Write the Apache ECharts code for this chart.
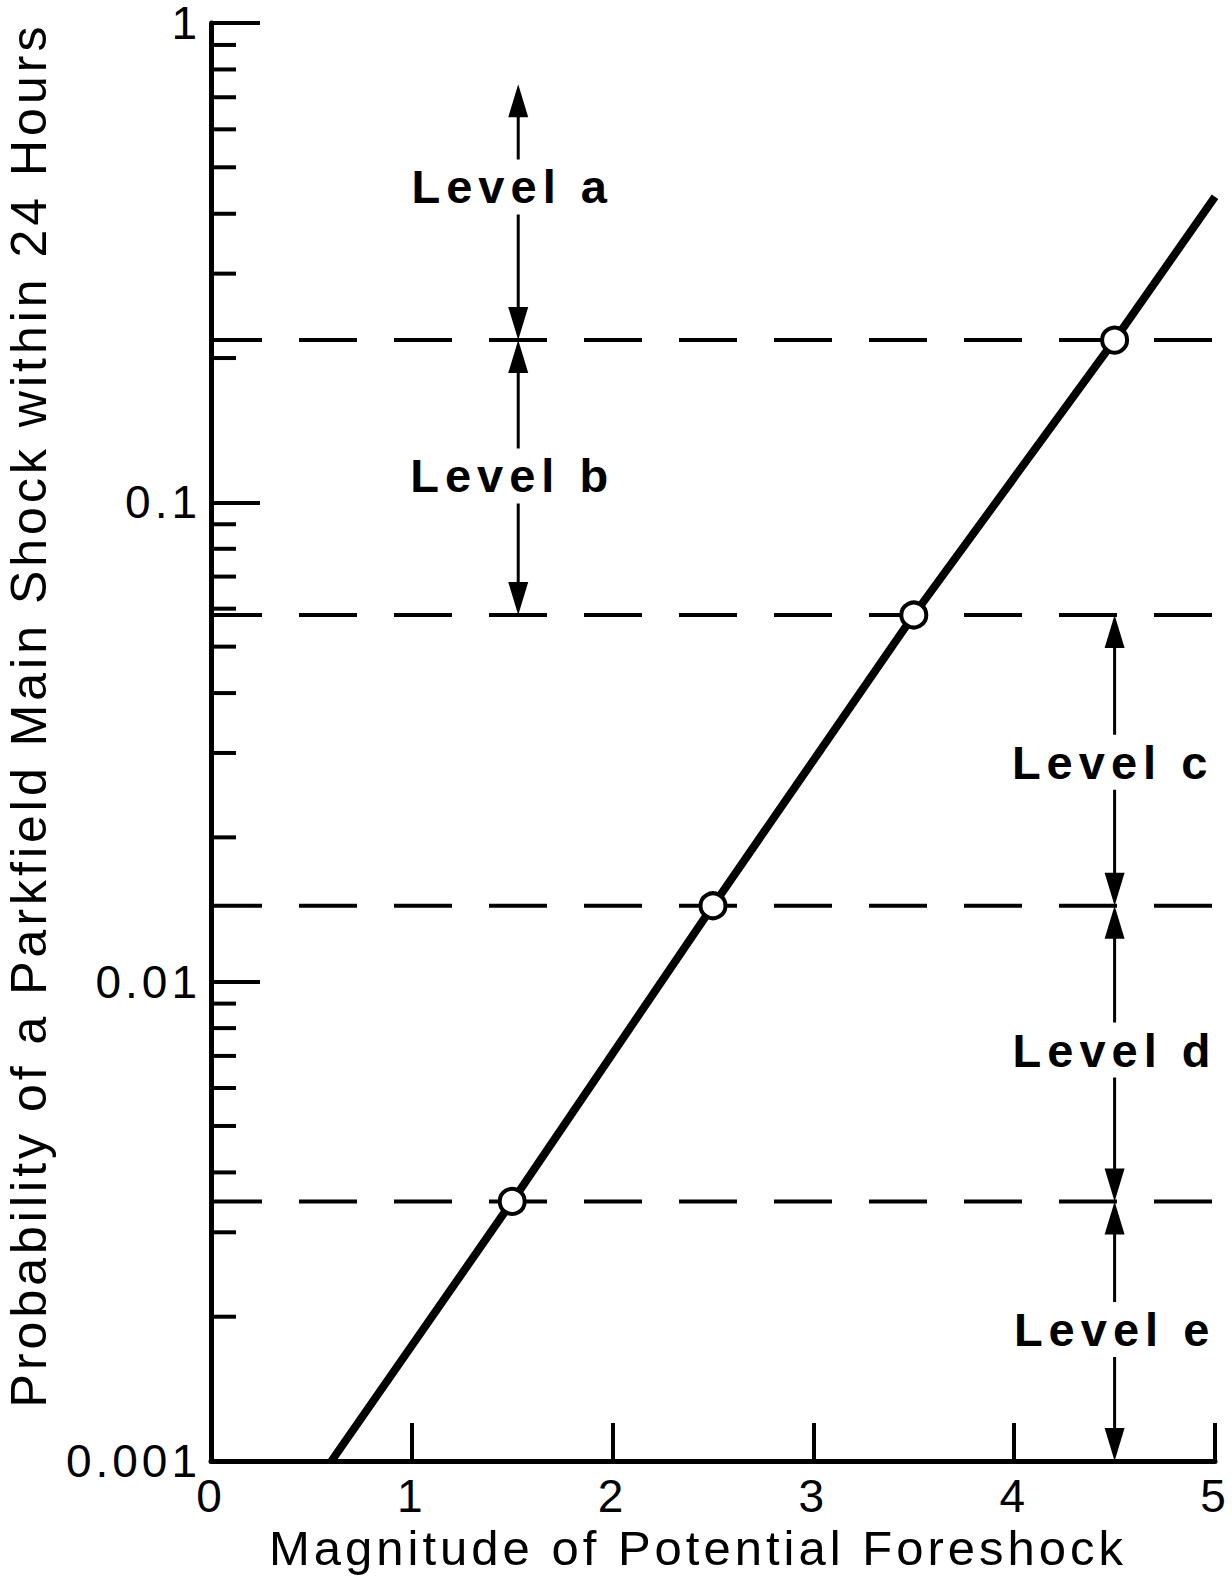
<!DOCTYPE html>
<html><head><meta charset="utf-8">
<script src="https://cdn.jsdelivr.net/npm/echarts@6/dist/echarts.min.js"></script>
<style>
html,body{margin:0;padding:0;background:#fff;}
#chart{width:1232px;height:1586px;}
#chart text{letter-spacing:4px;}
#chart text[style*="bold"]{letter-spacing:6px;}
</style></head><body><div id="chart"></div>
<script>
// ---- data ----
const xTickValues = [0, 1, 2, 3, 4, 5];
const xTickLabels = ['0', '1', '2', '3', '4', '5'];
const yTickValues = [0.001, 0.01, 0.1, 1];
const yTickLabels = ['0.001', '0.01', '0.1', '1'];
const yMinorTicks = [0.002, 0.003, 0.004, 0.005, 0.006, 0.007, 0.008, 0.009,
                     0.02, 0.03, 0.04, 0.05, 0.06, 0.07, 0.08, 0.09,
                     0.2, 0.3, 0.4, 0.5, 0.6, 0.7, 0.8, 0.9];
const lineX = [0.6, 1.5, 2.5, 3.5, 4.5, 5.0];
const lineY = [0.001, 0.00348, 0.0144, 0.0582, 0.218, 0.434];
const pointX = [1.5, 2.5, 3.5, 4.5];
const pointY = [0.00348, 0.0144, 0.0582, 0.218];
const levelBoundaries = [0.218, 0.0582, 0.0144, 0.00348];
const levelNames = ['Level a', 'Level b', 'Level c', 'Level d', 'Level e'];
const levelArrowX = [1.53, 1.53, 4.5, 4.5, 4.5];
const levelTop = [0.745, 0.218, 0.0582, 0.0144, 0.00348];
const levelBottom = [0.218, 0.0582, 0.0144, 0.00348, 0.001];
const levelLabelX = [1.5, 1.5, 4.49, 4.5, 4.5];
const levelLabelY = [0.455, 0.1135, 0.0287, 0.0072, 0.00188];
const xTitle = 'Magnitude of Potential Foreshock';
const yTitle = 'Probability of a Parkfield Main Shock within 24 Hours';

const FONT = '"Liberation Sans", Arial, Helvetica, sans-serif';
const chart = echarts.init(document.getElementById('chart'), null, {renderer: 'svg'});

function renderArrow(params, api) {
  const x = api.value(0), y0 = api.value(1), y1 = api.value(2);
  const lx = api.value(3), ly = api.value(4), idx = api.value(5);
  const pb = api.coord([x, y0]), pt = api.coord([x, y1]), pl = api.coord([lx, ly]);
  const L = 33, W = 20;
  return {type: 'group', children: [
    {type: 'line', shape: {x1: pt[0], y1: pt[1] + L - 4, x2: pb[0], y2: pb[1] - L + 4},
     style: {stroke: '#000', lineWidth: 3}},
    {type: 'polygon', shape: {points: [[pt[0], pt[1]], [pt[0] - W / 2, pt[1] + L], [pt[0] + W / 2, pt[1] + L]]},
     style: {fill: '#000'}},
    {type: 'polygon', shape: {points: [[pb[0], pb[1]], [pb[0] - W / 2, pb[1] - L], [pb[0] + W / 2, pb[1] - L]]},
     style: {fill: '#000'}},
    {type: 'text', style: {text: levelNames[idx], x: pl[0], y: pl[1], align: 'center', verticalAlign: 'middle',
      fontSize: 47, fontWeight: 'bold', fontFamily: FONT, fill: '#000', backgroundColor: '#fff', padding: [4, 4]}}
  ]};
}

function renderMinorTick(params, api) {
  const p = api.coord([0, api.value(1)]);
  return {type: 'line', shape: {x1: p[0], y1: p[1], x2: p[0] + 25, y2: p[1]},
    style: {stroke: '#000', lineWidth: 4}};
}

function renderLevelLine(params, api) {
  const v = api.value(1);
  const p0 = api.coord([0, v]), p1 = api.coord([5, v]);
  return {type: 'line', shape: {x1: p0[0], y1: p0[1], x2: p1[0] + 4, y2: p1[1]},
    style: {stroke: '#000', lineWidth: 4, lineDash: [58, 37], lineDashOffset: 7}};
}

function yLabel(v) {
  const i = yTickValues.findIndex(t => Math.abs(Math.log10(t) - Math.log10(v)) < 1e-6);
  return i >= 0 ? yTickLabels[i] : '';
}
function xLabel(v) {
  const i = xTickValues.indexOf(Math.round(v * 1000) / 1000);
  return i >= 0 ? xTickLabels[i] : '';
}

const option = {
  animation: false,
  backgroundColor: '#fff',
  grid: {left: 211, right: 17, top: 23, bottom: 125, containLabel: false, outerBoundsMode: 'none'},
  xAxis: {
    type: 'value', min: 0, max: 5, interval: 1,
    name: xTitle, nameLocation: 'middle', nameGap: 62,
    nameTextStyle: {fontSize: 49, fontFamily: FONT, color: '#000', padding: [0, 30, 0, 0]},
    axisLine: {show: true, lineStyle: {color: '#000', width: 5}},
    axisTick: {show: true, inside: true, length: 38, lineStyle: {color: '#000', width: 4}},
    axisLabel: {show: true, margin: 12, fontSize: 46, fontFamily: FONT, color: '#000', formatter: xLabel,
      showMinLabel: true, showMaxLabel: true, hideOverlap: false},
    splitLine: {show: false}
  },
  yAxis: {
    type: 'log', logBase: 10, min: 0.001, max: 1,
    name: yTitle, nameLocation: 'middle', nameRotate: 90, nameGap: 157,
    nameTextStyle: {fontSize: 50, fontFamily: FONT, color: '#000', padding: [0, 0, 0, 54]},
    axisLine: {show: true, lineStyle: {color: '#000', width: 5}},
    axisTick: {show: true, inside: true, length: 49, lineStyle: {color: '#000', width: 4}},
    axisLabel: {show: true, margin: 10, fontSize: 46, lineHeight: 36, fontFamily: FONT, color: '#000', formatter: yLabel,
      showMinLabel: true, showMaxLabel: true, hideOverlap: false},
    splitLine: {show: false}
  },
  series: [
    {
      type: 'custom', z: 1, clip: false,
      renderItem: renderLevelLine,
      data: levelBoundaries.map(v => [0, v])
    },
    {
      type: 'line', z: 2,
      data: lineX.map((x, i) => [x, lineY[i]]),
      symbol: 'none',
      lineStyle: {color: '#000', width: 8}
    },
    {
      type: 'custom', z: 3, clip: false,
      renderItem: renderMinorTick,
      data: yMinorTicks.map(v => [0, v])
    },
    {
      type: 'custom', z: 4, clip: false,
      renderItem: renderArrow,
      encode: {x: 0, y: 1},
      data: levelNames.map((n, i) => [levelArrowX[i], levelBottom[i], levelTop[i], levelLabelX[i], levelLabelY[i], i])
    },
    {
      type: 'scatter', z: 5,
      data: pointX.map((x, i) => [x, pointY[i]]),
      symbol: 'circle', symbolSize: 25,
      itemStyle: {color: '#fff', borderColor: '#000', borderWidth: 4, opacity: 1}
    }
  ]
};
chart.setOption(option);
</script></body></html>
